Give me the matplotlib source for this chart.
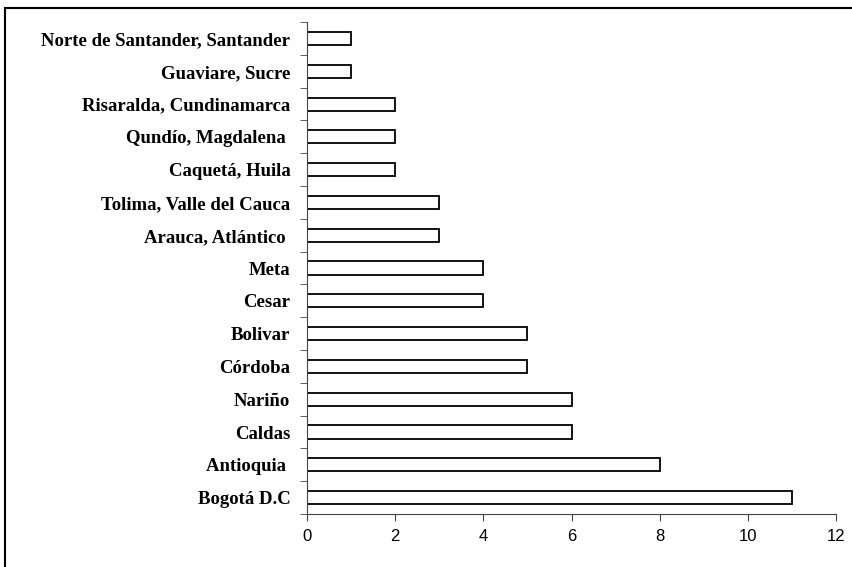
import matplotlib.pyplot as plt
from matplotlib.patches import Rectangle
import numpy as np

labels = ["Bogotá D.C", "Antioquia ", "Caldas", "Nariño", "Córdoba", "Bolivar",
          "Cesar", "Meta", "Arauca, Atlántico ", "Tolima, Valle del Cauca",
          "Caquetá, Huila", "Qundío, Magdalena ", "Risaralda, Cundinamarca",
          "Guaviare, Sucre", "Norte de Santander, Santander"]
values = [11, 8, 6, 6, 5, 5, 4, 4, 3, 3, 2, 2, 2, 1, 1]
xticks = [0, 2, 4, 6, 8, 10, 12]

fig = plt.figure(figsize=(8.53, 5.67), dpi=100)
ax = fig.add_axes([0.36, 0.0935, 0.62, 0.8675])

y = np.arange(len(labels))
ax.barh(y, values, height=0.4, color='white', edgecolor='black', linewidth=1.3)

ax.set_xlim(0, 12)
ax.set_ylim(-0.5, len(labels) - 0.5)
ax.set_xticks(xticks)
ax.set_xticklabels([str(v) for v in xticks], family='Liberation Sans', fontsize=12)

ax.set_yticks(y)
ax.set_yticklabels(labels, family='Liberation Serif', fontsize=13.5, weight='bold')
ax.tick_params(axis='y', length=0, pad=12)
ax.set_yticks(np.arange(len(labels) + 1) - 0.5, minor=True)
ax.tick_params(axis='y', which='minor', length=5, color='#444444')
ax.tick_params(axis='x', length=5, color='#444444', pad=6)

for s in ['top', 'right']:
    ax.spines[s].set_visible(False)
for s in ['left', 'bottom']:
    ax.spines[s].set_color('#444444')

fig.patches.append(Rectangle((5 / 853, -0.01), 1.0, 1 - 8 / 567 + 0.01,
                             transform=fig.transFigure, fill=False,
                             edgecolor='black', linewidth=1.5))

fig.savefig('out.png', dpi=100)
